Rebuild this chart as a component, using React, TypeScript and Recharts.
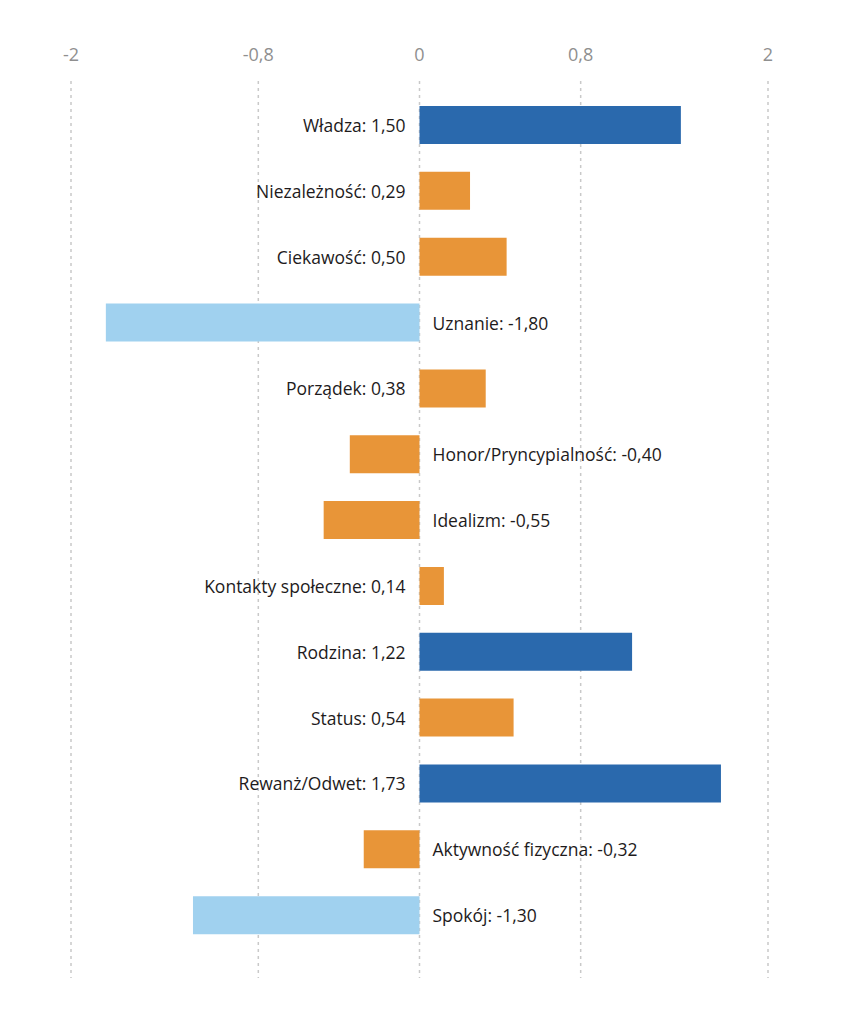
import React from 'react';
import { BarChart, Bar, XAxis, YAxis, CartesianGrid, Cell, LabelList } from 'recharts';

const categories = [
  'Władza', 'Niezależność', 'Ciekawość', 'Uznanie', 'Porządek',
  'Honor/Pryncypialność', 'Idealizm', 'Kontakty społeczne', 'Rodzina',
  'Status', 'Rewanż/Odwet', 'Aktywność fizyczna', 'Spokój',
];
const scores = [1.5, 0.29, 0.5, -1.8, 0.38, -0.4, -0.55, 0.14, 1.22, 0.54, 1.73, -0.32, -1.3];

// the source grid lines sit a bit off their printed labels, so keep both
const tickValues = [-2, -0.925, 0, 0.925, 2];
const tickLabels = ['-2', '-0,8', '0', '0,8', '2'];

const FONT = '"Open Sans", "Noto Sans", sans-serif';

const data = categories.map((name, i) => ({ name, value: scores[i] }));

function barColor(v: number) {
  if (v >= 1) return '#2a69ad';
  if (v <= -1) return '#a0d1ef';
  return '#e89538';
}

const fmt = (v: number) => v.toFixed(2).replace('.', ',');

function BarLabel(props: any) {
  const { x, y, width, height, index } = props;
  const v = scores[index];
  const left = Math.min(x, x + width);
  const right = Math.max(x, x + width);
  const pos = v >= 0;
  const zero = pos ? left : right;
  return (
    <text
      x={pos ? zero - 14 : zero + 13}
      y={y + height / 2}
      textAnchor={pos ? 'end' : 'start'}
      dominantBaseline="central"
      fontSize={17.5}
      fontFamily={FONT}
      fill="#1e1b1c"
    >
      {`${categories[index]}: ${fmt(v)}`}
    </text>
  );
}

export default function App() {
  return (
    <div style={{ position: 'absolute', left: 0, top: 0, width: 866, height: 1030, background: '#fff' }}>
      <BarChart
        width={866}
        height={1030}
        data={data}
        layout="vertical"
        margin={{ top: 0, right: 98, left: 71, bottom: 52 }}
      >
        <CartesianGrid horizontal={false} stroke="#c9c9c9" strokeWidth={1.5} strokeDasharray="3 4" />
        <XAxis
          type="number"
          orientation="top"
          domain={[-2, 2]}
          ticks={tickValues}
          tickFormatter={(v: number) => tickLabels[tickValues.indexOf(v)]}
          axisLine={false}
          tickLine={false}
          height={81}
          tickMargin={14}
          interval={0}
          tick={{ fontSize: 18, fill: '#8f8f8f', fontFamily: FONT }}
        />
        <YAxis type="category" dataKey="name" hide padding={{ top: 11, bottom: 30 }} />
        <Bar dataKey="value" barSize={38} isAnimationActive={false}>
          {data.map((d, i) => (
            <Cell key={i} fill={barColor(d.value)} />
          ))}
          <LabelList dataKey="value" content={<BarLabel />} />
        </Bar>
      </BarChart>
    </div>
  );
}
